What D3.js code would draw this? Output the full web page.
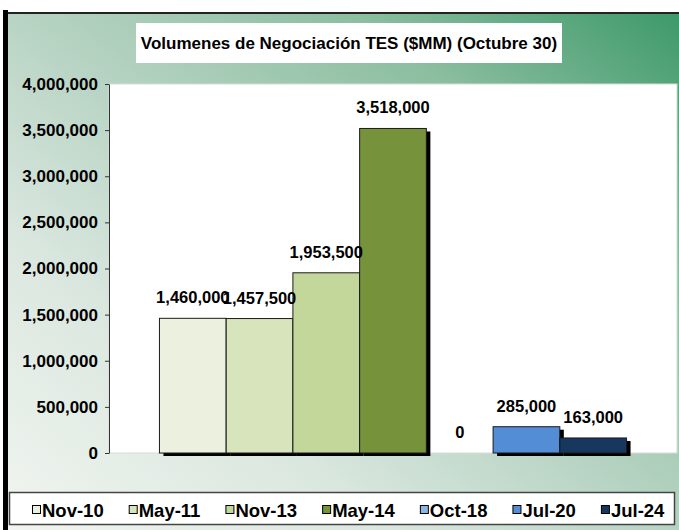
<!DOCTYPE html>
<html>
<head>
<meta charset="utf-8">
<script src="https://cdn.jsdelivr.net/npm/d3@7"></script>
<style>
  body { margin: 0; background: #fff; }
  text { font-family: "Liberation Sans", Arial, sans-serif; font-weight: bold; fill: #000; }
</style>
</head>
<body>
<svg id="chart" width="679" height="530"></svg>
<script>
// data
var categories = ["Octubre 30"];
var series = ["Nov-10", "May-11", "Nov-13", "May-14", "Oct-18", "Jul-20", "Jul-24"];
var values = [1460000, 1457500, 1953500, 3518000, 0, 285000, 163000];
var colors = ["#ebf1de", "#d8e4bc", "#c4d79b", "#76933c", "#8db4e2", "#538dd5", "#17375e"];
var yTicks = [0, 500000, 1000000, 1500000, 2000000, 2500000, 3000000, 3500000, 4000000];
var title = "Volumenes de Negociación TES ($MM) (Octubre 30)";

var data = series.map(function(s, i) { return {name: s, value: values[i], color: colors[i]}; });

var svg = d3.select("#chart");

// background with diagonal gradient
var defs = svg.append("defs");
var grad = defs.append("linearGradient")
    .attr("id", "bg")
    .attr("x1", 0).attr("y1", 1).attr("x2", 1).attr("y2", 0);
grad.append("stop").attr("offset", "0%").attr("stop-color", "#f4f6f2");
grad.append("stop").attr("offset", "30%").attr("stop-color", "#dae7df");
grad.append("stop").attr("offset", "50%").attr("stop-color", "#b8d4c4");
grad.append("stop").attr("offset", "75%").attr("stop-color", "#8cbea0");
grad.append("stop").attr("offset", "100%").attr("stop-color", "#389766");

svg.append("rect")
    .attr("x", 8).attr("y", 13)
    .attr("width", 692).attr("height", 547)
    .attr("fill", "url(#bg)");
// frame lines
svg.append("rect").attr("x", 3).attr("y", 10).attr("width", 5).attr("height", 520).attr("fill", "#000");
svg.append("rect").attr("x", 8).attr("y", 12).attr("width", 671).attr("height", 2).attr("fill", "#222");

// title
svg.append("rect")
    .attr("x", 136).attr("y", 23)
    .attr("width", 426).attr("height", 40)
    .attr("fill", "#fff");
svg.append("text")
    .attr("x", 349).attr("y", 49)
    .attr("text-anchor", "middle")
    .attr("font-size", "17px")
    .text(title);

// plot area
var margin = {top: 84, left: 109, right: 2, bottom: 77};
var width = 679 - margin.left - margin.right,
    height = 530 - margin.top - margin.bottom;

var g = svg.append("g")
    .attr("transform", "translate(" + margin.left + "," + margin.top + ")");

g.append("rect")
    .attr("width", width).attr("height", height)
    .attr("fill", "#fff")
    .attr("stroke", "#d8dcd8")
    .attr("stroke-width", 1);

var x0 = d3.scaleBand()
    .domain(categories)
    .range([0, width])
    .paddingOuter(0.108)
    .paddingInner(0);

var x1 = d3.scaleBand()
    .domain(series)
    .range([0, x0.bandwidth()])
    .padding(0);

var y = d3.scaleLinear()
    .domain([0, 4000000])
    .range([height, 0]);

var yAxis = g.append("g")
    .call(d3.axisLeft(y)
        .tickValues(yTicks)
        .tickSize(4)
        .tickPadding(7)
        .tickSizeOuter(0)
        .tickFormat(d3.format(",")));
yAxis.select(".domain").attr("stroke", "#333");
yAxis.selectAll(".tick line").attr("stroke", "#333");
yAxis.selectAll("text")
    .attr("font-size", "17px")
    .attr("font-family", "'Liberation Sans', Arial, sans-serif")
    .attr("font-weight", "bold")
    .attr("fill", "#000");

var grp = g.append("g")
    .attr("transform", "translate(" + x0(categories[0]) + ",0)");

// shadows
grp.selectAll(".shadow")
    .data(data)
    .enter()
    .append("rect")
    .attr("class", "shadow")
    .attr("x", function(d) { return x1(d.name) + 4; })
    .attr("y", function(d) { return y(d.value) + 3; })
    .attr("width", x1.bandwidth())
    .attr("height", function(d) { return height - y(d.value); })
    .attr("fill", "#000");

// bars
grp.selectAll(".bar")
    .data(data)
    .enter()
    .append("rect")
    .attr("class", "bar")
    .attr("x", function(d) { return x1(d.name); })
    .attr("y", function(d) { return y(d.value); })
    .attr("width", x1.bandwidth())
    .attr("height", function(d) { return height - y(d.value); })
    .attr("fill", function(d) { return d.color; })
    .attr("stroke", "#1a1a1a")
    .attr("stroke-width", 1);

// labels
grp.selectAll(".bar-label")
    .data(data)
    .enter()
    .append("text")
    .attr("class", "bar-label")
    .attr("x", function(d) { return x1(d.name) + x1.bandwidth() / 2; })
    .attr("y", function(d) { return y(d.value) - 15; })
    .attr("text-anchor", "middle")
    .attr("font-size", "16.5px")
    .text(function(d) { return d3.format(",")(d.value); });

// legend
svg.append("rect")
    .attr("x", 9.5).attr("y", 492.5)
    .attr("width", 665).attr("height", 32)
    .attr("fill", "#fff")
    .attr("stroke", "#444")
    .attr("stroke-width", 1.5);

var legend = svg.append("g");
var lx = 32;
data.forEach(function(d) {
    var item = legend.append("g").attr("transform", "translate(" + lx + ",0)");
    item.append("rect")
        .attr("x", 0.5).attr("y", 505.5)
        .attr("width", 8).attr("height", 8)
        .attr("fill", d.color)
        .attr("stroke", "#000")
        .attr("stroke-width", 1);
    var t = item.append("text")
        .attr("x", 10).attr("y", 516.5)
        .attr("font-size", "18.5px")
        .text(d.name);
    lx += 10 + t.node().getComputedTextLength() + 25;
});
</script>
</body>
</html>
